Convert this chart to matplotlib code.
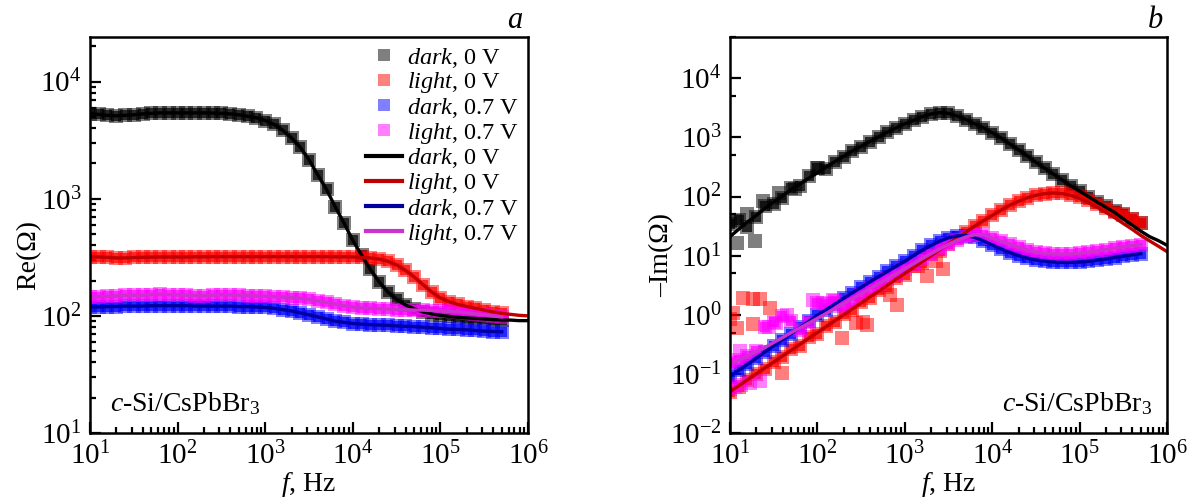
import matplotlib
matplotlib.use('Agg')
import matplotlib.pyplot as plt
from matplotlib.ticker import LogLocator, NullFormatter

plt.rcParams['font.family'] = ['Liberation Serif', 'DejaVu Serif']
plt.rcParams['mathtext.fontset'] = 'custom'
plt.rcParams['mathtext.rm'] = 'Liberation Serif'
plt.rcParams['mathtext.it'] = 'Liberation Serif:italic'
plt.rcParams['mathtext.bf'] = 'Liberation Serif:bold'

# ---------------- data ----------------
freq = [10, 12.6, 15.8, 20.0, 25.1, 31.6, 39.8, 50.1, 63.1, 79.4,
        100, 126, 158, 200, 251, 316, 398, 501, 631, 794,
        1000, 1260, 1580, 2000, 2510, 3160, 3980, 5010, 6310, 7940,
        1.0e4, 1.26e4, 1.58e4, 2.0e4, 2.51e4, 3.16e4, 3.98e4, 5.01e4, 6.31e4, 7.94e4,
        1.0e5, 1.26e5, 1.58e5, 2.0e5, 2.51e5, 3.16e5, 3.98e5, 5.01e5]
freq_tail = [6.31e5, 7.94e5, 1.0e6]

# Re(Z)
re_dark0 = [5300, 5250, 5150, 5100, 5150, 5200, 5300, 5350, 5400, 5400,
            5400, 5400, 5400, 5400, 5380, 5350, 5300, 5200, 5050, 4900,
            4650, 4300, 3850, 3300, 2750, 2150, 1600, 1200, 850, 620,
            440, 330, 250, 195, 160, 138, 124, 115, 108, 104,
            101, 99, 97, 96, 95, 94, 93, 92]
re_dark0_tail = [92, 91, 91]
re_light0 = [320, 318, 316, 312, 312, 315, 316, 317, 318, 318,
             318, 318, 319, 319, 320, 320, 320, 320, 320, 320,
             320, 320, 320, 320, 320, 320, 320, 320, 319, 319,
             318, 316, 312, 305, 292, 272, 245, 215, 185, 160,
             142, 132, 125, 120, 116, 112, 108, 105]
re_light0_tail = [103, 101, 100]
re_dark07 = [119, 119, 120, 120, 121, 121, 121, 122, 122, 122,
             122, 122, 121, 121, 121, 121, 121, 120, 120, 119,
             118, 116, 113, 110, 106, 102, 98, 94, 90, 88,
             86, 85, 84, 83.5, 83, 82, 81.5, 81, 80, 79,
             78, 77, 76.5, 76, 75, 74, 73.5, 73]
re_light07 = [145, 146, 147, 148, 150, 150, 150, 152, 153, 152,
              151, 150, 149, 148, 150, 152, 151, 150, 149, 148,
              147, 146, 145, 143, 141, 138, 134, 130, 126, 122,
              119, 117, 116, 115, 114, 113, 113, 112, 112, 111,
              110, 109, 108, 106, 104, 102, 100, 98]

# -Im(Z): measured
im_dark0 = [34, 40, 30, 45, 70, 75, 95, 140, 150, 220,
            300, 290, 380, 470, 580, 700, 851, 1020, 1230, 1450,
            1700, 1950, 2240, 2500, 2630, 2550, 2300, 2000, 1700, 1450,
            1200, 980, 780, 620, 490, 380, 302, 240, 190, 151,
            123, 100, 81, 68, 58, 50, 42, 36]
im_dark0_extra_f = [11.4, 11.9, 15.5, 19.3, 24, 36, 55, 102]
im_dark0_extra = [38, 16.4, 50, 17.5, 83, 116, 132, 307]

im_light0 = [0.05, 0.06, 0.08, 0.10, 0.12, 0.16, 0.19, 0.26, 0.30, 0.42,
             0.48, 0.65, 0.76, 1.05, 1.2, 1.65, 1.9, 2.6, 3.0, 4.2,
             4.8, 6.6, 7.6, 10.5, 12.0, 16, 20, 25, 31.6, 39,
             48, 59, 71, 83, 95, 105, 112, 115, 113, 108,
             100, 88, 75, 64, 55, 48, 42, 36]
im_light0_extra_f = [10, 10.9, 11.9, 14.2, 18.5, 22, 28.7, 18.5, 39, 190,
                     280, 330, 365, 680, 810, 1400, 1800, 2300, 2750]
im_light0_extra = [0.85, 1.07, 0.59, 1.92, 1.82, 1.82, 1.3, 0.7, 0.103, 0.40,
                   0.72, 0.75, 0.68, 2.18, 1.48, 6.6, 4.5, 8.0, 6.0]

im_dark07 = [0.09, 0.115, 0.145, 0.185, 0.235, 0.30, 0.38, 0.48, 0.61, 0.77,
             0.98, 1.22, 1.52, 1.9, 2.35, 2.9, 3.6, 4.4, 5.4, 6.6,
             8.0, 10.0, 12.3, 14.9, 17.6, 20.0, 21.6, 21.8, 20.3, 17.8,
             15.2, 13.0, 11.3, 10.0, 9.1, 8.5, 8.1, 7.8, 7.7, 7.7,
             7.8, 8.0, 8.4, 8.8, 9.3, 9.8, 10.3, 10.8]

im_light07 = [0.15, 0.17, 0.20, 0.24, 0.62, 0.75, 0.95, 0.80, 0.55, 0.75,
              1.6, 1.5, 1.7, 1.45, 1.8, 2.2, 2.76, 3.35, 4.07, 4.95,
              6.0, 7.3, 8.9, 10.8, 13.0, 15.5, 18.2, 20.8, 22.5, 22.6,
              19.8, 17.5, 15.8, 13.9, 12.5, 11.6, 11.0, 10.7, 10.6, 10.7,
              11.0, 11.4, 12.0, 12.7, 13.4, 14.1, 14.8, 15.4]
im_light07_extra_f = [10, 11.5, 13.5, 17, 22, 13, 28, 34, 45, 90, 117, 152, 181]
im_light07_extra = [0.055, 0.06, 0.065, 0.07, 0.075, 0.24, 0.63, 0.72, 0.98, 1.8, 1.58, 1.8, 1.4]

# -Im(Z): fits
im_dark0_fit = [21, 28, 37, 48, 63, 81, 102, 132, 162, 204,
                251, 316, 389, 479, 589, 708, 851, 1020, 1230, 1450,
                1700, 1950, 2240, 2500, 2630, 2550, 2300, 2000, 1700, 1450,
                1200, 980, 780, 620, 490, 380, 302, 240, 190, 151,
                123, 100, 81, 66, 54, 42, 33, 26, 21, 18, 15]
im_light0_fit = [0.050, 0.063, 0.079, 0.10, 0.126, 0.158, 0.20, 0.25, 0.316, 0.40,
                 0.50, 0.63, 0.79, 1.0, 1.26, 1.58, 2.0, 2.5, 3.16, 4.0,
                 5.0, 6.3, 7.9, 10.0, 12.6, 15.8, 20, 25, 31.6, 39,
                 48, 59, 71, 83, 95, 105, 112, 115, 112, 105,
                 93, 79, 66, 54, 44, 35, 28, 22, 17.8, 14.5, 11.7]
im_dark07_fit = im_dark07
im_light07_fit = [0.15, 0.17, 0.20, 0.24, 0.28, 0.34, 0.41, 0.50, 0.60, 0.72,
                  0.87, 1.05, 1.27, 1.54, 1.87, 2.27, 2.76, 3.35, 4.07, 4.95,
                  6.0, 7.3, 8.9, 10.8, 13.0, 15.5, 18.2, 20.8, 22.5, 22.6,
                  19.8, 17.5, 15.8, 13.9, 12.5, 11.6, 11.0, 10.7, 10.6, 10.7,
                  11.0, 11.4, 12.0, 12.7, 13.4, 14.1, 14.8, 15.4]

labels = [r'$\mathit{dark}$, 0 V', r'$\mathit{light}$, 0 V',
          r'$\mathit{dark}$, 0.7 V', r'$\mathit{light}$, 0.7 V']
marker_colors = ['black', 'red', 'blue', 'magenta']
line_colors = ['black', '#c00000', '#0000a0', '#cc33cc']

# ---------------- figure ----------------
W, H = 1189, 503
fig = plt.figure(figsize=(W / 100, H / 100), dpi=100)
ax1 = fig.add_axes([90 / W, 1 - 433 / H, 438 / W, 396 / H])
ax2 = fig.add_axes([730 / W, 1 - 433 / H, 437 / W, 396 / H])

MS_OUT = 9.8     # outer (light) square
MS_IN = 7.2      # inner (denser) square
ALPHA = 0.5
LW = 2.4
TICK_FS = 21


def squares(ax, x, y, c, label=None):
    h, = ax.plot(x, y, 's', color=c, alpha=ALPHA, ms=MS_OUT, mew=0, label=label)
    ax.plot(x, y, 's', color=c, alpha=0.7, ms=MS_IN, mew=0)
    return h


def style(ax, ylim, ysubs):
    ax.set_xscale('log')
    ax.set_yscale('log')
    ax.set_xlim(10, 1e6)
    ax.set_ylim(*ylim)
    ax.xaxis.set_major_locator(LogLocator(base=10, numticks=20))
    ax.xaxis.set_minor_locator(LogLocator(base=10, subs=range(2, 10), numticks=20))
    ax.xaxis.set_minor_formatter(NullFormatter())
    ax.yaxis.set_major_locator(LogLocator(base=10, numticks=20))
    ax.yaxis.set_minor_locator(LogLocator(base=10, subs=ysubs, numticks=20))
    ax.yaxis.set_minor_formatter(NullFormatter())
    ax.tick_params(which='both', direction='in', top=False, right=False,
                   width=1.6, labelsize=TICK_FS)
    ax.tick_params(which='major', length=8)
    ax.tick_params(which='minor', length=4.5)
    ax.tick_params(axis='x', which='major', pad=6)
    ax.tick_params(axis='y', which='major', pad=6)
    for s in ax.spines.values():
        s.set_linewidth(1.8)


# left panel: Re
re_data = [re_dark0, re_light0, re_dark07, re_light07]
re_fits = [re_dark0 + re_dark0_tail, re_light0 + re_light0_tail, re_dark07, re_light07]
handles_m, handles_l = [], []
for d, c, lab in zip(re_data, marker_colors, labels):
    handles_m.append(squares(ax1, freq, d, c, lab))
for d, c, lab in zip(re_fits, line_colors, labels):
    fx = freq + freq_tail if len(d) > len(freq) else freq
    h, = ax1.plot(fx, d, '-', color=c, lw=LW, label=lab)
    handles_l.append(h)
style(ax1, (10, 2.4e4), range(2, 10))
ax1.set_ylabel('Re(Ω)', fontsize=20)
ax1.yaxis.set_label_coords(-0.112, 0.45)
ax1.set_xlabel(r'$\mathit{f}$, Hz', fontsize=20, labelpad=0)
leg = ax1.legend(handles_m + handles_l, labels + labels, loc='upper right',
                 frameon=False, fontsize=17.5, markerscale=0.9, handlelength=1.5,
                 handletextpad=0.2, labelspacing=0.03, borderaxespad=0.15,
                 borderpad=0.2)
for lh in leg.legend_handles[4:]:
    lh.set_linewidth(3)
ax1.text(0.045, 0.075, r'$\mathit{c}$-Si/CsPbBr$_3$', transform=ax1.transAxes,
         fontsize=20, ha='left', va='center')

# right panel: -Im
im_data = [(freq, im_dark0, im_dark0_extra_f, im_dark0_extra),
           (freq, im_light0, im_light0_extra_f, im_light0_extra),
           (freq, im_dark07, [], []),
           (freq, im_light07, im_light07_extra_f, im_light07_extra)]
for (fx, d, ef, ed), c in zip(im_data, marker_colors):
    squares(ax2, fx, d, c)
    if ef:
        ax2.plot(ef, ed, 's', color=c, alpha=ALPHA, ms=MS_OUT, mew=0)
im_fits = [im_dark0_fit, im_light0_fit, im_dark07_fit, im_light07_fit]
for d, c in zip(im_fits, line_colors):
    fx = freq + freq_tail if len(d) > len(freq) else freq
    ax2.plot(fx, d, '-', color=c, lw=LW)
style(ax2, (1e-2, 5e4), [5])
ax2.set_ylabel('–Im(Ω)', fontsize=20)
ax2.yaxis.set_label_coords(-0.128, 0.45)
ax2.set_xlabel(r'$\mathit{f}$, Hz', fontsize=20, labelpad=0)
ax2.text(0.965, 0.075, r'$\mathit{c}$-Si/CsPbBr$_3$', transform=ax2.transAxes,
         fontsize=20, ha='right', va='center')

fig.text(515 / W, 1 - 20 / H, 'a', fontsize=22, style='italic', ha='center', va='center')
fig.text(1155 / W, 1 - 20 / H, 'b', fontsize=22, style='italic', ha='center', va='center')

fig.savefig('out.png', dpi=100)
